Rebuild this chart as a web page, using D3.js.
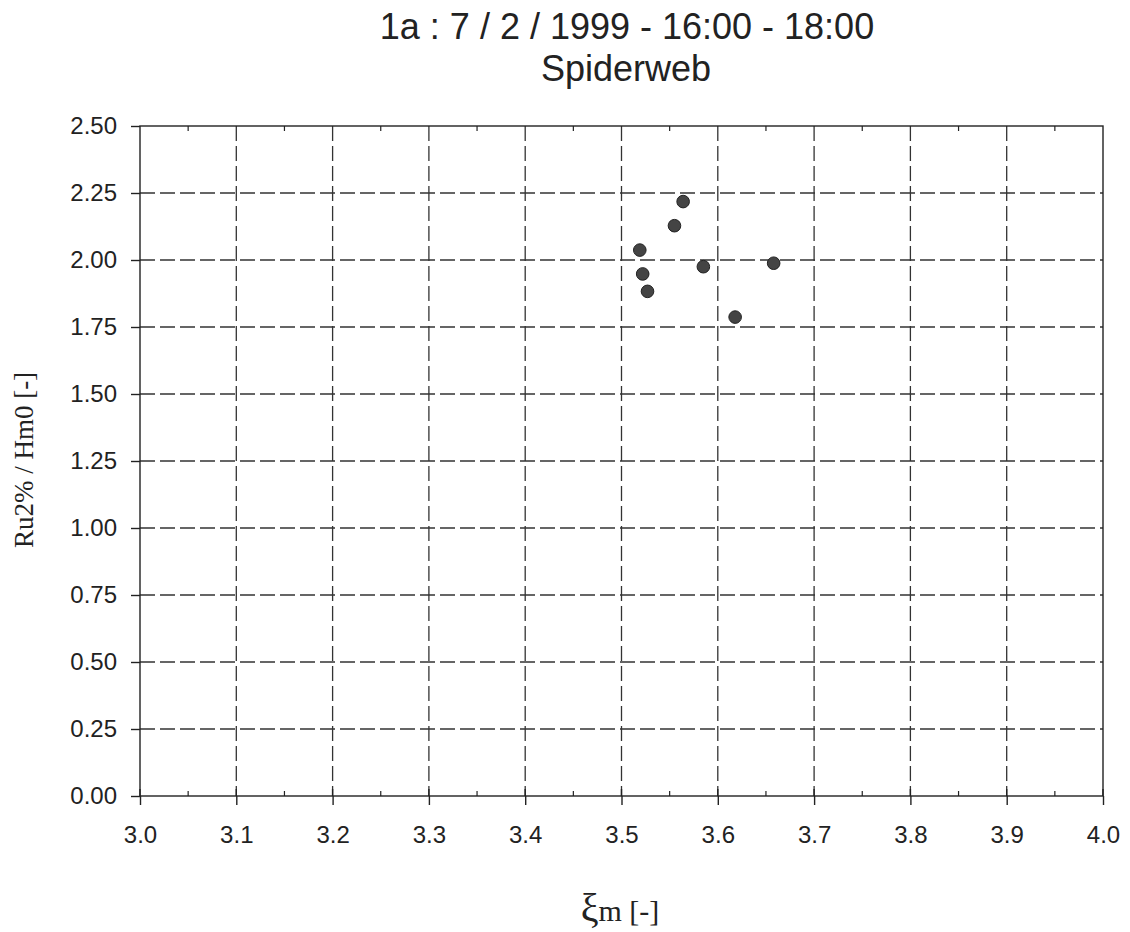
<!DOCTYPE html>
<html>
<head>
<meta charset="utf-8">
<script src="https://cdn.jsdelivr.net/npm/d3@7"></script>
<style>
  body { margin: 0; background: #fff; }
  svg text { fill: #222; }
</style>
</head>
<body>
<div id="chart"></div>
<script>
// data
const xValues = [3.564, 3.555, 3.519, 3.522, 3.527, 3.585, 3.658, 3.618];
const yValues = [2.218, 2.128, 2.037, 1.948, 1.883, 1.975, 1.988, 1.787];
const xTicks = [3.0, 3.1, 3.2, 3.3, 3.4, 3.5, 3.6, 3.7, 3.8, 3.9, 4.0];
const xMinorTicks = [3.05, 3.15, 3.25, 3.35, 3.45, 3.55, 3.65, 3.75, 3.85, 3.95];
const yTicks = [0, 0.25, 0.5, 0.75, 1.0, 1.25, 1.5, 1.75, 2.0, 2.25, 2.5];

const W = 1130, H = 932;
const margin = {top: 126, right: 27, bottom: 136, left: 140};
const width = W - margin.left - margin.right,
    height = H - margin.top - margin.bottom;

const svg = d3.select("#chart").append("svg")
    .attr("width", W).attr("height", H);

const g = svg.append("g")
    .attr("transform", `translate(${margin.left},${margin.top})`);

const x = d3.scaleLinear().domain([3.0, 4.0]).range([0, width]);
const y = d3.scaleLinear().domain([0, 2.5]).range([height, 0]);

// dashed grid
g.append("g").selectAll("line")
    .data(yTicks.slice(1, -1))
    .join("line")
    .attr("x1", 0).attr("x2", width)
    .attr("y1", d => y(d)).attr("y2", d => y(d))
    .attr("stroke", "#333").attr("stroke-width", 1.3)
    .attr("stroke-dasharray", "15,5");

g.append("g").selectAll("line")
    .data(xTicks.slice(1, -1))
    .join("line")
    .attr("x1", d => x(d)).attr("x2", d => x(d))
    .attr("y1", 0).attr("y2", height)
    .attr("stroke", "#333").attr("stroke-width", 1.3)
    .attr("stroke-dasharray", "15,5");

// frame
g.append("rect")
    .attr("width", width).attr("height", height)
    .attr("fill", "none").attr("stroke", "#222").attr("stroke-width", 1.4);

// axes
const xAxis = g.append("g")
    .attr("transform", `translate(0,${height})`)
    .call(d3.axisBottom(x).tickValues(xTicks).tickFormat(d3.format(".1f"))
        .tickSizeInner(9).tickPadding(21));
const yAxis = g.append("g")
    .call(d3.axisLeft(y).tickValues(yTicks).tickFormat(d3.format(".2f"))
        .tickSizeInner(9).tickPadding(14));
[xAxis, yAxis].forEach(a => {
    a.select(".domain").remove();
    a.selectAll("line").attr("stroke", "#222").attr("stroke-width", 1.4);
    a.selectAll("text")
        .attr("font-family", "'Liberation Sans', Arial, sans-serif")
        .attr("font-size", 24).attr("fill", "#222");
});
// major x ticks also poke a little inside
g.append("g").selectAll("line")
    .data(xTicks)
    .join("line")
    .attr("x1", d => x(d)).attr("x2", d => x(d))
    .attr("y1", height).attr("y2", height - 7)
    .attr("stroke", "#222").attr("stroke-width", 1.4);

// minor ticks inside, bottom and top
g.append("g").selectAll("line")
    .data(xMinorTicks)
    .join("line")
    .attr("x1", d => x(d)).attr("x2", d => x(d))
    .attr("y1", height).attr("y2", height - 5)
    .attr("stroke", "#222").attr("stroke-width", 1.2);
g.append("g").selectAll("line")
    .data(xMinorTicks)
    .join("line")
    .attr("x1", d => x(d)).attr("x2", d => x(d))
    .attr("y1", 0).attr("y2", 5)
    .attr("stroke", "#222").attr("stroke-width", 1.2);

// points
g.append("g").selectAll("circle")
    .data(xValues.map((v, i) => [v, yValues[i]]))
    .join("circle")
    .attr("cx", d => x(d[0]))
    .attr("cy", d => y(d[1]))
    .attr("r", 6.3)
    .attr("fill", "#444")
    .attr("stroke", "#222").attr("stroke-width", 1);

// titles
svg.append("text")
    .attr("x", 627).attr("y", 39)
    .attr("text-anchor", "middle")
    .attr("font-family", "'Liberation Sans', Arial, sans-serif")
    .attr("font-size", 36)
    .text("1a : 7 / 2 / 1999 - 16:00 - 18:00");
svg.append("text")
    .attr("x", 626).attr("y", 81)
    .attr("text-anchor", "middle")
    .attr("font-family", "'Liberation Sans', Arial, sans-serif")
    .attr("font-size", 36)
    .text("Spiderweb");

// axis labels
const xl = svg.append("text")
    .attr("x", 620).attr("y", 921)
    .attr("text-anchor", "middle")
    .attr("font-family", "'Liberation Serif', 'Times New Roman', serif")
    .attr("font-size", 30);
xl.append("tspan").attr("font-size", 40).text("ξ");
xl.append("tspan").text("m [-]");

svg.append("text")
    .attr("transform", "translate(33,460) rotate(-90)")
    .attr("text-anchor", "middle")
    .attr("font-family", "'Liberation Serif', 'Times New Roman', serif")
    .attr("font-size", 27)
    .text("Ru2% / Hm0 [-]");
</script>
</body>
</html>
